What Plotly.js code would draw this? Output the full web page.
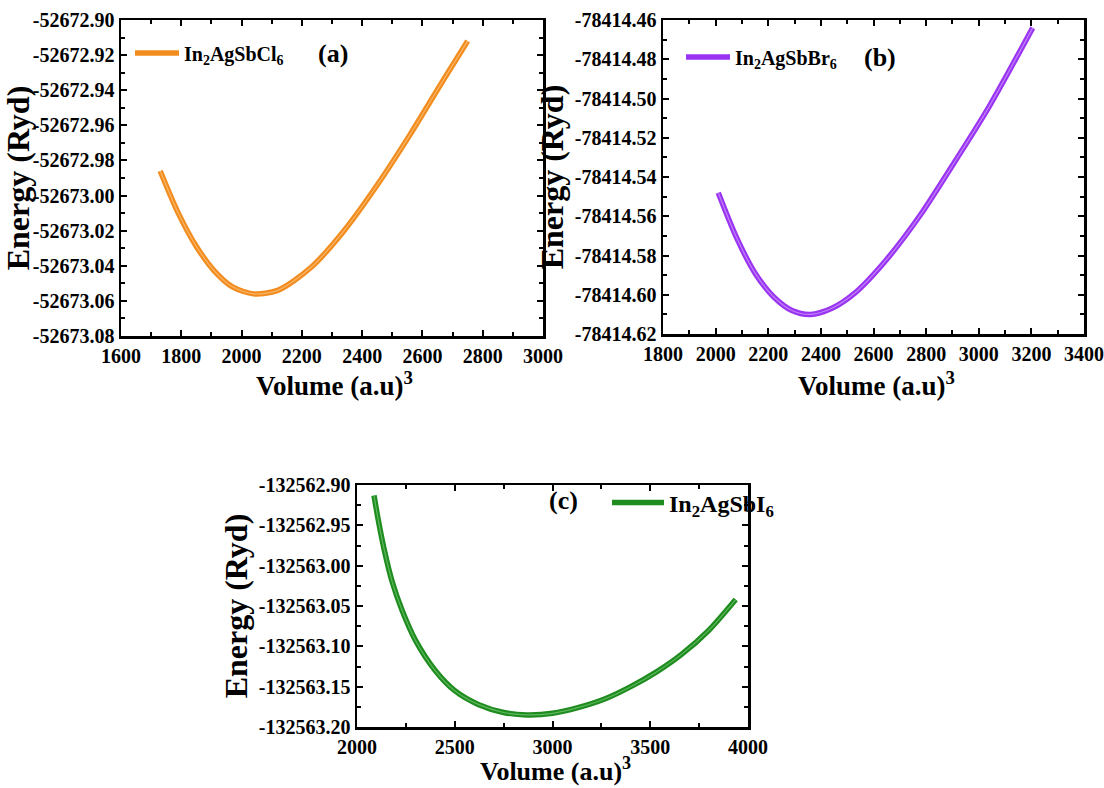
<!DOCTYPE html>
<html>
<head>
<meta charset="utf-8">
<script src="https://cdn.plot.ly/plotly-3.0.1.min.js"></script>
<style>
  html, body { margin: 0; padding: 0; background: #fff; }
  #chart { width: 1104px; height: 788px; }
</style>
</head>
<body>
<div id="chart"></div>
<script>
// E–V curves for the three In2AgSbX6 double perovskites
const volumeCl = [1730, 1790, 1850, 1910, 1970, 2040, 2120, 2230, 2340, 2450, 2560, 2670, 2750];
const energyCl = [-52672.986, -52673.010, -52673.029, -52673.043, -52673.052, -52673.056, -52673.054,
                  -52673.041, -52673.020, -52672.994, -52672.965, -52672.934, -52672.912];

const volumeBr = [2010, 2080, 2150, 2220, 2290, 2360, 2440, 2530, 2650, 2780, 2910, 3040, 3205];
const energyBr = [-78414.548, -78414.571, -78414.589, -78414.601, -78414.608, -78414.610, -78414.607,
                  -78414.599, -78414.582, -78414.559, -78414.532, -78414.504, -78414.464];

const volumeI = [2087, 2110, 2140, 2180, 2230, 2300, 2400, 2500, 2620, 2750, 2870,
                 3000, 3130, 3270, 3400, 3530, 3660, 3800, 3937];
const energyI = [-132562.913, -132562.945, -132562.981, -132563.020, -132563.055, -132563.093, -132563.130,
                 -132563.155, -132563.172, -132563.182, -132563.185, -132563.183, -132563.176, -132563.165,
                 -132563.150, -132563.132, -132563.110, -132563.080, -132563.042];

const seriesNames = ['In<sub>2</sub>AgSbCl<sub>6</sub>', 'In<sub>2</sub>AgSbBr<sub>6</sub>', 'In<sub>2</sub>AgSbI<sub>6</sub>'];
const panelLabels = ['(a)', '(b)', '(c)'];
const seriesColors = ['#F28C1E', '#9A34F2', '#1E8C1E'];
const highlightColors = ['#F8B66A', '#BE82F7', '#5FB85F'];
const xTitle = 'Volume (a.u)<sup>3</sup>';
const yTitle = 'Energy (Ryd)';

const xTicksA = [1600, 1800, 2000, 2200, 2400, 2600, 2800, 3000];
const yTicksA = [-52672.90, -52672.92, -52672.94, -52672.96, -52672.98, -52673.00, -52673.02, -52673.04, -52673.06, -52673.08];
const xTicksB = [1800, 2000, 2200, 2400, 2600, 2800, 3000, 3200, 3400];
const yTicksB = [-78414.46, -78414.48, -78414.50, -78414.52, -78414.54, -78414.56, -78414.58, -78414.60, -78414.62];
const xTicksC = [2000, 2500, 3000, 3500, 4000];
const yTicksC = [-132562.90, -132562.95, -132563.00, -132563.05, -132563.10, -132563.15, -132563.20];

const FONT = 'Liberation Serif';
const fmt = v => v.toFixed(2);
const fmt0 = v => String(v);

function xAxis(domain, ticks, anchor, minorStep) {
  return {
    domain: domain, anchor: anchor,
    range: [ticks[0], ticks[ticks.length - 1]],
    tickvals: ticks, ticktext: ticks.map(fmt0),
    ticks: 'inside', ticklen: 6, tickwidth: 2, tickcolor: '#000',
    minor: { dtick: minorStep, ticks: 'inside', ticklen: 4, tickwidth: 2, tickcolor: '#000' },
    showline: true, linewidth: 2.5, linecolor: '#000', mirror: 'allticks',
    showgrid: false, zeroline: false,
    tickfont: { family: FONT, size: 20, color: '#000', weight: 'bold' }
  };
}
function yAxis(domain, ticks, anchor, minorStep) {
  const lo = Math.min(...ticks), hi = Math.max(...ticks);
  return {
    domain: domain, anchor: anchor,
    range: [lo, hi],
    tickvals: ticks, ticktext: ticks.map(fmt),
    ticks: 'inside', ticklen: 6, tickwidth: 2, tickcolor: '#000',
    minor: { dtick: minorStep, tick0: lo, ticks: 'inside', ticklen: 4, tickwidth: 2, tickcolor: '#000' },
    showline: true, linewidth: 2.5, linecolor: '#000', mirror: 'allticks',
    showgrid: false, zeroline: false,
    tickfont: { family: FONT, size: 20, color: '#000', weight: 'bold' },
    title: { text: yTitle, standoff: 2,
             font: { family: FONT, size: 32, color: '#000', weight: 'bold' } }
  };
}

function curve(x, y, i, xa, ya, leg) {
  return {
    x: x, y: y, xaxis: xa, yaxis: ya, legend: leg,
    type: 'scatter', mode: 'lines', name: seriesNames[i],
    line: { color: seriesColors[i], width: 5.5, shape: 'spline', smoothing: 0.8 }
  };
}
// thin lighter core along each curve (the hollow-symbol look of the dense data points)
function core(x, y, i, xa, ya) {
  return {
    x: x, y: y, xaxis: xa, yaxis: ya, showlegend: false, hoverinfo: 'skip',
    type: 'scatter', mode: 'lines',
    line: { color: highlightColors[i], width: 1.2, shape: 'spline', smoothing: 0.8 }
  };
}

const data = [
  curve(volumeCl, energyCl, 0, 'x', 'y', 'legend'),
  core(volumeCl, energyCl, 0, 'x', 'y'),
  curve(volumeBr, energyBr, 1, 'x2', 'y2', 'legend2'),
  core(volumeBr, energyBr, 1, 'x2', 'y2'),
  curve(volumeI, energyI, 2, 'x3', 'y3', 'legend3'),
  core(volumeI, energyI, 2, 'x3', 'y3')
];

function legendAt(x, y, size, w) {
  return { x: x, y: y, xanchor: 'left', yanchor: 'middle', bgcolor: 'rgba(0,0,0,0)',
           font: { family: FONT, size: size, color: '#000', weight: 'bold' },
           itemwidth: w, tracegroupgap: 0 };
}

const W = 1104, H = 788;
const px = v => v / W, py = v => 1 - v / H;

function paperText(text, x, y, size) {
  return { text: text, x: px(x), y: py(y), xref: 'paper', yref: 'paper',
           xanchor: 'center', yanchor: 'middle', showarrow: false,
           font: { family: FONT, size: size, color: '#000', weight: 'bold' } };
}

const layout = {
  width: W, height: H,
  margin: { l: 0, r: 0, t: 0, b: 0 },
  paper_bgcolor: '#fff', plot_bgcolor: '#fff',
  showlegend: true,
  xaxis:  xAxis([px(121), px(543)], xTicksA, 'y', 100),
  yaxis:  yAxis([py(336), py(20)], yTicksA, 'x', 0.01),
  xaxis2: xAxis([px(663), px(1084)], xTicksB, 'y2', 100),
  yaxis2: yAxis([py(334), py(20)], yTicksB, 'x2', 0.01),
  xaxis3: xAxis([px(357), px(748)], xTicksC, 'y3', 250),
  yaxis3: yAxis([py(727), py(485)], yTicksC, 'x3', 0.025),
  legend:  legendAt(px(130), py(53), 20, 44),
  legend2: legendAt(px(681), py(57), 20, 44),
  legend3: legendAt(px(607), py(503), 24, 52),
  annotations: [
    paperText(panelLabels[0], 333, 53, 26),
    paperText(panelLabels[1], 880, 57, 26),
    paperText(panelLabels[2], 563, 500, 26),
    paperText(xTitle, 334, 384, 27),
    paperText(xTitle, 876, 384, 27),
    paperText(xTitle, 555, 769, 26)
  ]
};

Plotly.newPlot('chart', data, layout, { displayModeBar: false, staticPlot: true });
</script>
</body>
</html>
